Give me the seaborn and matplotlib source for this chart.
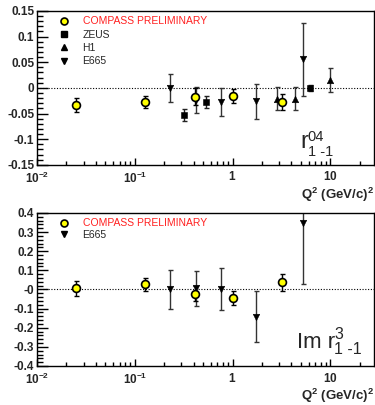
import numpy as np
import pandas as pd
import matplotlib
matplotlib.use("Agg")
import matplotlib.pyplot as plt
import seaborn as sns
from matplotlib.ticker import MultipleLocator, FixedLocator, FixedFormatter, LogLocator, NullFormatter
from matplotlib.lines import Line2D

# r^04_{1-1}
compass_q2 = [0.025, 0.127, 0.417, 1.0, 3.23]
compass_r04 = [-0.033, -0.028, -0.017, -0.016, -0.028]
compass_r04_err = [0.014, 0.012, 0.017, 0.0135, 0.0155]
zeus_q2 = [0.316, 0.537, 6.17]
zeus_r04 = [-0.053, -0.028, 0.0]
zeus_r04_err = [0.012, 0.012, 0.006]
h1_q2 = [2.83, 4.33, 9.9]
h1_r04 = [-0.021, -0.021, 0.0155]
h1_r04_err = [0.023, 0.023, 0.0226]
e665_q2 = [0.228, 0.42, 0.753, 1.72, 5.26]
e665_r04 = [0.0, -0.024, -0.028, -0.026, 0.056]
e665_r04_err = [0.027, 0.025, 0.027, 0.034, 0.071]

# Im r^3_{1-1}
compass_im = [0.005, 0.028, -0.022, -0.044, 0.037]
compass_im_err = [0.039, 0.034, 0.04, 0.035, 0.043]
e665_im = [0.0, 0.005, 0.003, -0.143, 0.346]
e665_im_err = [0.1, 0.093, 0.11, 0.133, 0.32]

top_yticks = [-0.15, -0.1, -0.05, 0, 0.05, 0.1, 0.15]
top_ylabels = ["-0.15", "-0.1", "-0.05", "0", "0.05", "0.1", "0.15"]
bot_yticks = [-0.4, -0.3, -0.2, -0.1, 0, 0.1, 0.2, 0.3, 0.4]
bot_ylabels = ["-0.4", "-0.3", "-0.2", "-0.1", "-0", "0.1", "0.2", "0.3", "0.4"]
xticks = [0.01, 0.1, 1, 10]
xlabels = [r"$10^{-2}$", r"$10^{-1}$", r"$1$", r"$10$"]

sns.set_style("ticks")
plt.rcParams["font.family"] = ["Liberation Sans", "DejaVu Sans"]
plt.rcParams["mathtext.fontset"] = "custom"
plt.rcParams["mathtext.rm"] = "Liberation Sans:bold"
plt.rcParams["mathtext.bf"] = "Liberation Sans:bold"
plt.rcParams["mathtext.sf"] = "Liberation Sans"
plt.rcParams["mathtext.it"] = "Liberation Sans:italic"
plt.rcParams["mathtext.default"] = "rm"

W, H = 375, 405
fig = plt.figure(figsize=(3.75, 4.05), dpi=100)
ax1 = fig.add_axes([0.0987, 0.593, 0.899, 0.380])
ax2 = fig.add_axes([0.0987, 0.0963, 0.899, 0.378])


def errs(ax, x, y, e, color):
    ax.errorbar(x, y, yerr=e, fmt="none", ecolor=color, elinewidth=1.0,
                capsize=1.8, capthick=1.0, zorder=2)


def style_axes(ax, yticks, ylabels, minor):
    ax.set_xscale("log")
    ax.set_xlim(0.01, 28)
    ax.set_ylim(yticks[0], yticks[-1])
    ax.axhline(0, color="black", lw=0.8, ls=(0, (1, 1.5)), zorder=1)
    ax.yaxis.set_major_locator(FixedLocator(yticks))
    ax.yaxis.set_major_formatter(FixedFormatter(ylabels))
    ax.yaxis.set_minor_locator(MultipleLocator(minor))
    ax.xaxis.set_major_locator(FixedLocator(xticks))
    ax.xaxis.set_major_formatter(FixedFormatter(xlabels))
    ax.xaxis.set_minor_locator(LogLocator(base=10, subs=np.arange(2, 10)))
    ax.xaxis.set_minor_formatter(NullFormatter())
    ax.tick_params(axis="both", which="both", direction="in", top=False, right=False,
                   width=1.0, color="black")
    ax.tick_params(axis="y", which="major", length=8, labelsize=8.5, pad=2)
    ax.tick_params(axis="y", which="minor", length=4)
    ax.tick_params(axis="x", which="major", length=5, labelsize=8.5, pad=4)
    ax.tick_params(axis="x", which="minor", length=3)
    for lab in ax.get_yticklabels():
        lab.set_fontweight("bold")
    for sp in ax.spines.values():
        sp.set_linewidth(1.0)
        sp.set_color("black")
    ax.set_ylabel("")
    ax.set_xlabel(r"Q$^{2}$ (GeV/c)$^{2}$", loc="right", fontsize=9.5,
                  fontweight="bold", labelpad=0)


def px(x, y):
    return x / W, 1 - y / H


# top panel
errs(ax1, e665_q2, e665_r04, e665_r04_err, "#333333")
errs(ax1, h1_q2, h1_r04, h1_r04_err, "#333333")
errs(ax1, zeus_q2, zeus_r04, zeus_r04_err, "#222222")
errs(ax1, compass_q2, compass_r04, compass_r04_err, "black")
sns.scatterplot(x=e665_q2, y=e665_r04, marker="v", s=22, color="black", edgecolor="black", ax=ax1, zorder=3)
sns.scatterplot(x=h1_q2, y=h1_r04, marker="^", s=22, color="black", edgecolor="black", ax=ax1, zorder=3)
sns.scatterplot(x=zeus_q2, y=zeus_r04, marker="s", s=25, color="black", edgecolor="black", ax=ax1, zorder=3)
sns.scatterplot(x=compass_q2, y=compass_r04, marker="o", s=32, color="#ffff00", edgecolor="black",
                linewidth=1.2, ax=ax1, zorder=4)
style_axes(ax1, top_yticks, top_ylabels, 0.01)
fig.text(*px(300, 148), "r", fontsize=17)
fig.text(*px(307.5, 141), "04", fontsize=10.5)
fig.text(*px(307.5, 156), "1 -1", fontsize=10.5)

h_compass = Line2D([], [], ls="none", marker="o", ms=5, mfc="#ffff00", mec="black", mew=1.2)
h_zeus = Line2D([], [], ls="none", marker="s", ms=5, color="black")
h_h1 = Line2D([], [], ls="none", marker="^", ms=4.5, color="black")
h_e665 = Line2D([], [], ls="none", marker="v", ms=4.5, color="black")
leg1 = ax1.legend([h_compass, h_zeus, h_h1, h_e665],
                  ["COMPASS PRELIMINARY", "ZEUS", "H1", "E665"],
                  loc="upper left", bbox_to_anchor=(0.03, 1.025), frameon=False, fontsize=7.5,
                  handletextpad=1.0, labelspacing=0.32, handlelength=1.5)
leg1.get_texts()[0].set_color("#ff2020")

# bottom panel
errs(ax2, e665_q2, e665_im, e665_im_err, "#333333")
errs(ax2, compass_q2, compass_im, compass_im_err, "black")
sns.scatterplot(x=e665_q2, y=e665_im, marker="v", s=22, color="black", edgecolor="black", ax=ax2, zorder=3)
sns.scatterplot(x=compass_q2, y=compass_im, marker="o", s=32, color="#ffff00", edgecolor="black",
                linewidth=1.2, ax=ax2, zorder=4)
style_axes(ax2, bot_yticks, bot_ylabels, 0.02)
fig.text(*px(297, 348), "Im r", fontsize=16)
fig.text(*px(334, 339), "3", fontsize=11.5)
fig.text(*px(334, 354), "1 -1", fontsize=11.5)

leg2 = ax2.legend([h_compass, h_e665], ["COMPASS PRELIMINARY", "E665"],
                  loc="upper left", bbox_to_anchor=(0.03, 1.025), frameon=False, fontsize=7.5,
                  handletextpad=1.0, labelspacing=0.12, handlelength=1.5)
leg2.get_texts()[0].set_color("#ff2020")

fig.savefig("out.png", dpi=100)
